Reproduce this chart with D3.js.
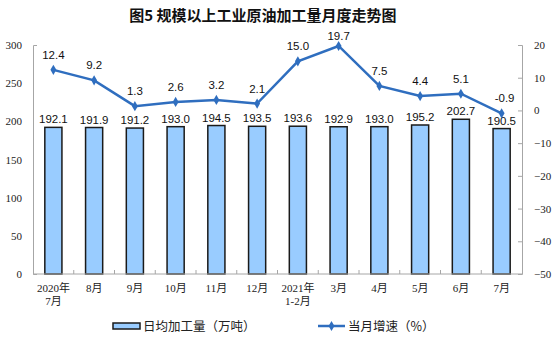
<!DOCTYPE html>
<html>
<head>
<meta charset="utf-8">
<script src="https://cdn.jsdelivr.net/npm/d3@7"></script>
<style>
  body { margin: 0; background: #fff; }
  svg { display: block; }
  .tick-label { font-family: "Liberation Serif", "Noto Sans CJK SC", serif; font-size: 11px; fill: #222; }
  .cat-label { font-family: "Liberation Serif", "Noto Sans CJK SC", serif; font-size: 11px; fill: #222; }
  .data-label { font-family: "Liberation Sans", Arial, sans-serif; font-size: 11.5px; fill: #111; }
  .legend-text { font-family: "Noto Sans CJK SC", sans-serif; font-size: 12.5px; fill: #222; }
</style>
</head>
<body>
<div id="chart"></div>
<script>
// data
const categories = ["2020年\n7月", "8月", "9月", "10月", "11月", "12月", "2021年\n1-2月", "3月", "4月", "5月", "6月", "7月"];
const dailyOutput = [192.1, 191.9, 191.2, 193.0, 194.5, 193.5, 193.6, 192.9, 193.0, 195.2, 202.7, 190.5];
const growthRate = [12.4, 9.2, 1.3, 2.6, 3.2, 2.1, 15.0, 19.7, 7.5, 4.4, 5.1, -0.9];
const leftTicks = [0, 50, 100, 150, 200, 250, 300];
const rightTicks = [-50, -40, -30, -20, -10, 0, 10, 20];

const width = 554, height = 353;
const margin = {top: 45, right: 32, bottom: 79, left: 33};
const innerW = width - margin.left - margin.right;
const innerH = height - margin.top - margin.bottom;

const svg = d3.select("#chart").append("svg")
    .attr("width", width)
    .attr("height", height);

// title
svg.append("text")
    .attr("x", 263)
    .attr("y", 21)
    .attr("text-anchor", "middle")
    .attr("font-family", "Noto Sans CJK SC, sans-serif")
    .attr("font-size", "15px")
    .attr("font-weight", "bold")
    .attr("fill", "#111")
    .text("图5  规模以上工业原油加工量月度走势图");

const chart = svg.append("g")
    .attr("transform", `translate(${margin.left},${margin.top})`);

const xScale = d3.scaleBand()
    .domain(categories)
    .range([0, innerW])
    .paddingInner(0.58)
    .paddingOuter(0.29);

const xBand = d3.scaleBand()
    .domain(categories)
    .range([0, innerW]);

const yLeft = d3.scaleLinear().domain([0, 300]).range([innerH, 0]);
const yRight = d3.scaleLinear().domain([-50, 20]).range([innerH, 0]);

// left axis
const leftAxis = d3.axisLeft(yLeft).tickValues(leftTicks).tickSizeInner(0).tickSizeOuter(-4).tickPadding(11);
chart.append("g").call(leftAxis)
    .call(g => g.select(".domain").attr("stroke", "#a6a6a6"))
    .call(g => g.selectAll(".tick text").attr("class", "tick-label").attr("fill", null));

// right axis
const rightAxis = d3.axisRight(yRight).tickValues(rightTicks).tickSizeInner(-4).tickSizeOuter(-4).tickPadding(12);
chart.append("g")
    .attr("transform", `translate(${innerW},0)`)
    .call(rightAxis)
    .call(g => g.select(".domain").attr("stroke", "#a6a6a6"))
    .call(g => g.selectAll(".tick line").attr("stroke", "#a6a6a6"))
    .call(g => g.selectAll(".tick text").attr("class", "tick-label").attr("fill", null));

// bars
chart.selectAll(".bar")
    .data(dailyOutput)
    .join("rect")
    .attr("class", "bar")
    .attr("x", (d, i) => xScale(categories[i]))
    .attr("width", xScale.bandwidth())
    .attr("y", d => yLeft(d))
    .attr("height", d => innerH - yLeft(d))
    .attr("fill", "#99ccff")
    .attr("stroke", "#1a1a1a")
    .attr("stroke-width", 1.5);

// x axis
const xAxisG = chart.append("g").attr("transform", `translate(0,${innerH})`);
xAxisG.append("line")
    .attr("x1", 0).attr("x2", innerW)
    .attr("stroke", "#a6a6a6");
xAxisG.selectAll(".xtick")
    .data(categories.slice(1))
    .join("line")
    .attr("x1", d => xBand(d)).attr("x2", d => xBand(d))
    .attr("y1", 0).attr("y2", -4)
    .attr("stroke", "#a6a6a6");

const catText = xAxisG.selectAll(".cat-label")
    .data(categories)
    .join("text")
    .attr("class", "cat-label")
    .attr("text-anchor", "middle")
    .attr("transform", d => `translate(${xScale(d) + xScale.bandwidth() / 2},0)`);
catText.each(function(d) {
    const lines = d.split("\n");
    d3.select(this).selectAll("tspan")
        .data(lines)
        .join("tspan")
        .attr("x", 0)
        .attr("y", (l, j) => 18 + j * 13)
        .text(l => l);
});

// bar labels
chart.selectAll(".bar-label")
    .data(dailyOutput)
    .join("text")
    .attr("class", "data-label")
    .attr("text-anchor", "middle")
    .attr("x", (d, i) => xScale(categories[i]) + xScale.bandwidth() / 2)
    .attr("y", d => yLeft(d) - 4)
    .text(d => d.toFixed(1));

// growth line
const lineColor = "#2f6ebf";
const line = d3.line()
    .x((d, i) => xScale(categories[i]) + xScale.bandwidth() / 2)
    .y(d => yRight(d));

chart.append("path")
    .datum(growthRate)
    .attr("fill", "none")
    .attr("stroke", lineColor)
    .attr("stroke-width", 2.5)
    .attr("d", line);

const diamond = d3.symbol().type(d3.symbolDiamond).size(30);
chart.selectAll(".marker")
    .data(growthRate)
    .join("path")
    .attr("d", diamond)
    .attr("fill", lineColor)
    .attr("transform", (d, i) => `translate(${xScale(categories[i]) + xScale.bandwidth() / 2},${yRight(d)})`);

// labels kept inside the plot top (19.7 sits just above its point)
chart.selectAll(".line-label")
    .data(growthRate)
    .join("text")
    .attr("class", "data-label")
    .attr("text-anchor", "middle")
    .attr("x", (d, i) => xScale(categories[i]) + xScale.bandwidth() / 2 + (i === 11 ? 3 : 0))
    .attr("y", d => Math.max(yRight(d) - 11, -5))
    .text(d => d.toFixed(1));

// legend
const legend = svg.append("g");
legend.append("rect")
    .attr("x", 113).attr("y", 323)
    .attr("width", 27).attr("height", 6)
    .attr("fill", "#99ccff")
    .attr("stroke", "#1a1a1a")
    .attr("stroke-width", 1.5);
legend.append("text")
    .attr("class", "legend-text")
    .attr("x", 143).attr("y", 331)
    .text("日均加工量（万吨）");

legend.append("line")
    .attr("x1", 318).attr("x2", 345)
    .attr("y1", 326).attr("y2", 326)
    .attr("stroke", lineColor)
    .attr("stroke-width", 2.5);
legend.append("path")
    .attr("d", diamond)
    .attr("fill", lineColor)
    .attr("transform", "translate(331.5,326)");
legend.append("text")
    .attr("class", "legend-text")
    .attr("x", 348).attr("y", 331)
    .text("当月增速（%）");
</script>
</body>
</html>
